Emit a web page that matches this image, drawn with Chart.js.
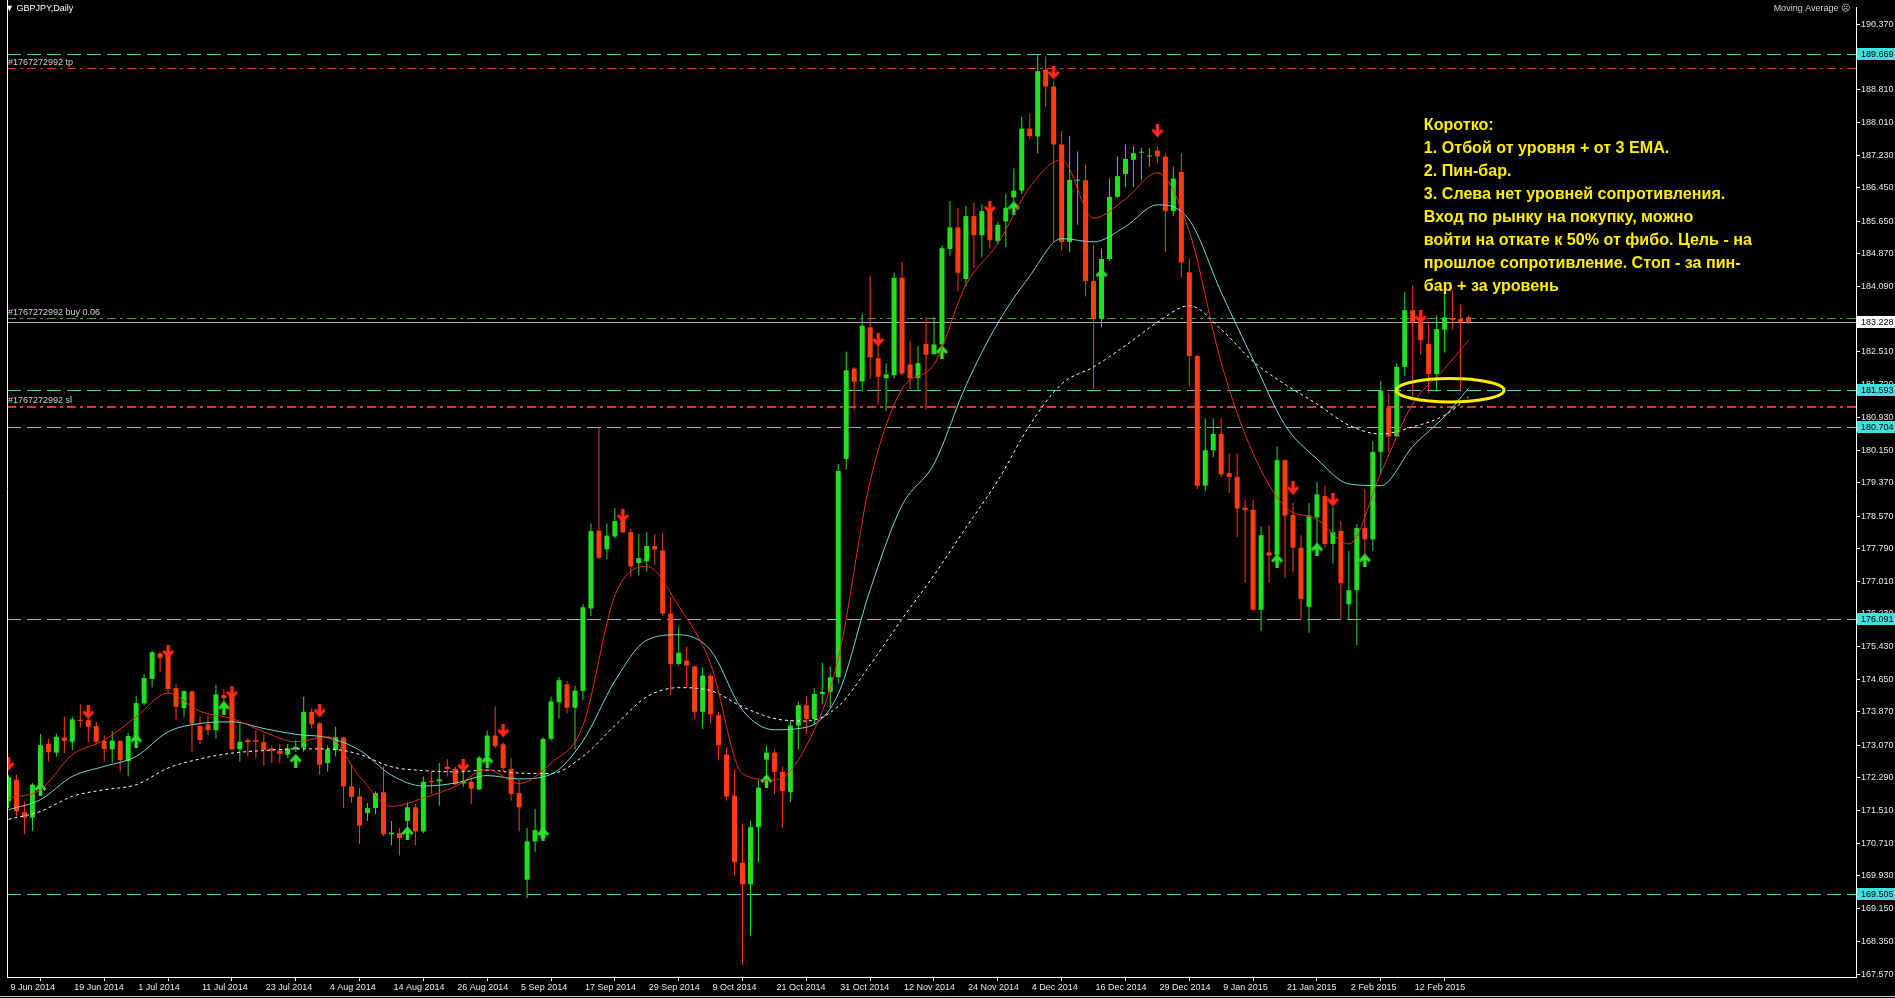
<!DOCTYPE html>
<html>
<head>
<meta charset="utf-8">
<title>GBPJPY,Daily</title>
<script src="https://cdn.jsdelivr.net/npm/chart.js@4.4.1/dist/chart.umd.min.js"></script>
<style>
html,body{margin:0;padding:0;background:#000;overflow:hidden}
#chart{display:block}
</style>
</head>
<body>
<canvas id="chart" width="1895" height="998"></canvas>
<script>
// GBPJPY daily, 9 Jun 2014 .. Feb 2015, bar index 0 = 9 Jun 2014
const tickLabels = ['9 Jun 2014','19 Jun 2014','1 Jul 2014','11 Jul 2014','23 Jul 2014','4 Aug 2014',
  '14 Aug 2014','26 Aug 2014','5 Sep 2014','17 Sep 2014','29 Sep 2014','9 Oct 2014','21 Oct 2014',
  '31 Oct 2014','12 Nov 2014','24 Nov 2014','4 Dec 2014','16 Dec 2014','29 Dec 2014','9 Jan 2015',
  '21 Jan 2015','2 Feb 2015','12 Feb 2015'];
const tickBars = [0,8,16,24,32,40,48,56,64,72,80,88,96,104,112,120,128,136,144,152,160,168,176];

const opens = [
  171.72,172.24,171.46,171.33,172.08,173.10,172.89,173.25,173.15,173.67,
  173.67,173.53,173.17,172.97,173.17,172.69,173.27,174.07,174.66,175.27,
  175.31,174.44,173.96,174.36,173.53,173.57,173.43,174.27,174.30,172.97,
  173.19,173.19,173.14,172.99,172.94,172.84,172.97,173.01,173.87,173.59,
  172.64,172.95,173.25,172.08,171.84,171.44,171.56,171.94,170.93,170.96,
  171.25,171.58,171.00,172.21,172.20,172.55,172.50,172.15,172.19,172.01,
  172.81,173.30,173.09,172.50,171.92,169.84,170.76,170.84,173.22,174.10,
  174.53,173.97,174.37,176.35,178.22,177.77,178.08,178.47,178.18,177.44,
  177.48,177.85,177.74,176.23,175.02,175.10,174.96,173.87,174.74,173.79,
  172.85,171.86,170.25,169.73,171.10,172.72,172.89,172.43,171.94,173.54,
  174.03,173.70,174.30,174.35,174.70,179.94,182.11,181.80,183.10,182.36,
  181.88,181.95,184.29,182.21,181.88,182.70,182.46,182.69,184.98,185.50,
  184.26,185.77,185.31,185.89,185.17,185.64,186.22,186.38,187.87,187.68,
  189.29,188.88,187.49,185.15,186.62,186.63,184.21,183.30,184.74,186.23,
  186.78,187.12,187.29,187.20,187.34,187.20,185.89,186.83,184.42,182.41,
  179.30,180.15,180.54,179.60,179.51,178.77,178.72,176.32,177.70,177.64,
  179.91,178.60,177.81,176.39,178.54,179.05,177.90,178.21,176.45,176.79,
  178.28,178.01,180.11,181.17,180.48,182.15,183.51,183.22,182.70,181.98,
  183.04,183.32,183.30,183.34];
const highs = [
  172.35,172.36,171.72,172.16,173.34,173.23,173.35,173.76,173.75,174.05,
  173.83,173.63,173.31,173.41,173.19,173.36,174.25,174.78,175.34,175.31,
  175.44,174.54,174.38,174.38,173.76,173.79,174.52,174.42,174.46,173.59,
  173.23,173.43,173.33,173.07,173.11,173.10,173.19,174.23,173.95,173.63,
  173.06,173.51,173.27,172.60,172.04,171.68,171.96,172.56,171.25,171.08,
  171.70,171.66,172.32,172.44,172.64,172.73,172.56,172.56,172.27,172.81,
  173.42,174.00,173.14,172.77,172.23,171.08,171.54,173.26,174.24,174.70,
  174.61,174.49,176.46,178.39,180.70,178.39,178.76,178.51,178.26,178.14,
  178.18,178.14,178.16,176.62,175.92,175.43,174.98,174.94,174.78,173.87,
  173.01,172.48,171.17,171.25,172.23,173.05,172.97,172.56,173.67,174.12,
  174.25,174.45,175.05,174.95,179.82,182.52,182.15,183.43,184.33,182.69,
  182.24,184.41,184.66,182.77,182.65,183.35,183.35,185.07,186.13,185.97,
  186.01,186.09,186.05,185.97,185.64,186.30,186.91,188.15,188.23,189.66,
  189.60,189.01,187.82,187.69,187.32,187.00,185.07,184.99,186.67,187.20,
  187.49,187.45,187.41,187.41,187.45,187.28,186.96,187.28,184.75,182.45,
  180.92,180.92,180.92,180.07,180.07,178.96,178.96,178.32,178.36,180.24,
  179.93,178.88,178.11,178.88,179.39,179.30,178.79,178.45,177.73,178.38,
  179.22,180.37,181.81,181.51,182.24,183.94,184.11,183.39,183.22,183.39,
  184.19,183.98,183.64,183.38];
const lows = [
  171.56,171.36,170.93,171.01,171.92,172.68,172.80,172.88,172.95,173.49,
  173.14,173.11,172.68,172.64,172.44,172.32,173.03,174.03,174.46,174.82,
  174.30,173.67,173.75,172.91,173.10,173.31,173.23,174.03,172.95,172.68,
  172.80,172.76,172.58,172.64,172.64,172.76,172.91,172.91,173.47,172.36,
  172.44,172.80,171.56,171.68,170.70,171.25,171.41,170.89,170.67,170.42,
  170.84,170.67,170.96,171.90,171.62,172.32,172.11,172.07,171.66,171.99,
  172.64,173.01,172.44,171.74,171.00,169.40,170.51,170.80,173.18,173.71,
  173.83,172.97,174.16,176.17,177.53,177.53,178.04,178.16,177.11,177.15,
  177.24,177.40,176.17,174.28,174.98,174.45,173.71,173.46,173.59,172.72,
  171.74,169.94,167.80,168.50,170.26,172.15,171.90,171.08,171.70,172.97,
  173.35,173.55,174.05,173.95,174.55,179.69,181.13,181.54,181.87,181.25,
  181.09,181.87,181.95,181.62,181.58,181.13,182.44,182.52,184.82,183.96,
  184.08,184.53,184.78,184.99,185.10,185.03,185.81,186.30,187.61,187.28,
  188.39,185.15,184.95,184.90,185.56,183.84,181.62,183.10,184.70,186.21,
  186.46,186.46,186.63,186.96,187.04,184.90,185.77,184.29,181.68,179.22,
  179.17,179.98,179.51,179.13,178.07,176.96,176.30,175.81,176.96,177.34,
  177.09,177.22,176.11,175.77,177.86,177.81,177.43,176.11,176.09,175.47,
  177.64,177.73,179.56,180.11,180.48,181.94,181.34,182.45,181.51,181.56,
  182.49,183.05,181.60,183.18];
const closes = [
  172.30,171.48,171.33,172.12,173.07,172.90,173.27,173.17,173.69,173.65,
  173.51,173.15,172.98,173.18,172.71,173.29,174.08,174.68,175.30,175.16,
  174.42,173.99,174.37,173.59,173.19,173.43,174.29,174.20,172.97,173.15,
  173.14,173.15,172.95,172.94,172.86,172.99,173.03,173.87,173.57,172.60,
  172.97,173.26,172.08,171.83,171.14,171.56,171.92,170.93,170.97,170.84,
  171.58,171.00,172.19,172.18,172.25,172.50,172.13,172.21,172.03,172.77,
  173.30,173.05,172.52,171.90,171.58,170.76,171.03,173.22,174.12,174.63,
  173.97,174.38,176.38,178.21,177.57,178.10,178.45,178.18,177.36,177.56,
  177.85,177.77,176.23,175.02,175.29,174.98,173.87,174.74,173.81,173.07,
  171.84,170.26,169.73,171.10,172.05,172.89,172.43,171.97,173.54,174.03,
  173.70,174.30,174.35,174.70,179.65,182.07,181.79,183.14,182.38,181.91,
  181.97,184.29,181.99,181.88,182.24,182.44,182.69,185.00,185.50,184.41,
  185.77,185.31,185.89,185.19,185.56,185.97,186.38,187.87,187.69,189.25,
  188.88,187.49,185.15,186.64,186.64,184.21,183.30,184.74,186.23,186.73,
  187.14,187.28,187.30,187.22,187.20,185.89,186.67,184.66,182.41,179.30,
  180.15,180.54,179.57,179.51,178.75,178.71,176.32,178.11,177.62,179.91,
  178.58,177.81,176.58,178.58,179.09,177.90,178.18,176.96,176.79,178.28,
  178.01,180.11,181.58,180.48,182.15,183.51,183.22,182.79,181.98,183.06,
  183.34,183.28,183.22,183.23];

// three moving averages, every 4 bars
const emaBars = [0,4,8,12,16,20,24,28,32,36,40,44,48,52,56,60,64,68,72,76,80,84,88,92,96,
  100,104,108,112,116,120,124,128,132,136,140,144,148,152,156,160,164,168,172,176,180,183];
const emaFast = [171.80,172.00,172.84,173.19,173.75,174.32,173.88,173.71,173.39,173.15,173.27,172.32,171.60,
  171.80,172.08,172.49,172.15,172.64,173.54,176.66,177.36,176.41,175.02,172.39,172.23,
  173.05,175.15,179.40,181.62,182.21,184.12,185.11,186.46,187.12,185.72,186.18,186.81,185.40,
  182.25,180.07,178.79,178.49,177.90,179.60,181.26,182.11,182.79];
const emaMid = [171.52,171.76,172.32,172.56,172.80,173.39,173.59,173.63,173.47,173.33,173.25,172.95,172.35,
  172.09,172.16,172.34,172.26,172.37,173.17,174.61,175.59,175.72,175.35,173.91,173.44,
  173.50,174.30,176.80,178.83,179.82,181.70,183.20,184.33,185.23,185.15,185.52,186.04,185.68,
  183.94,182.32,180.75,179.94,179.34,179.30,180.24,180.96,181.64];
const emaSlow = [171.29,171.48,171.84,172.00,172.12,172.52,172.74,172.88,172.94,172.98,172.98,172.85,172.55,
  172.46,172.43,172.47,172.40,172.39,172.80,173.54,174.23,174.45,174.38,173.99,173.71,
  173.65,174.00,175.00,176.10,177.15,178.29,179.42,180.75,181.74,182.15,182.66,183.22,183.62,
  183.05,182.28,181.73,181.26,180.75,180.54,180.71,180.99,181.43];

// signal arrows
const downArrowBars = [0,10,20,28,39,57,62,77,109,123,131,144,161,166,177];
const downArrowPrices = [172.62,173.86,175.31,174.33,173.90,172.58,173.42,178.57,182.80,185.97,189.21,187.82,179.24,178.96,183.34];
const upArrowBars = [4,16,27,36,50,60,67,95,117,126,137,159,164,170];
const upArrowPrices = [172.02,173.18,173.97,172.70,170.96,172.68,170.94,172.21,182.51,185.97,184.35,177.50,177.77,177.51];

// horizontal levels
const cyanLevels = [189.669, 181.593, 180.704, 176.091, 169.505];
const tpLevel = 189.335;
const buyLevel = 183.33;
const slLevel = 181.19;
const bidLevel = 183.228;
const orderId = '#1767272992';

const yTicks = [190.370,189.590,188.810,188.010,187.230,186.450,185.650,184.870,184.090,183.290,182.510,
  181.720,180.930,180.150,179.370,178.570,177.790,177.010,176.230,175.430,174.650,173.870,173.070,
  172.290,171.510,170.710,169.930,169.150,168.350,167.570];

const noteLines = ['Коротко:','1. Отбой от уровня + от 3 EMA.','2. Пин-бар.','3. Слева нет уровней сопротивления.',
  'Вход по рынку на покупку, можно','войти на откате к 50% от фибо. Цель - на','прошлое сопротивление. Стоп - за пин-',
  'бар + за уровень'];
const noteAnchor = {bar: 177.4, price: 187.95};
const ellipseMark = {bar: 180.7, price: 181.59, halfBars: 6.75, halfPrice: 0.28};

const BULL = '#20e020', BEAR = '#ff3c12';
const CYAN = '#4ccccc', RED = '#d23a32', FONT = '"Liberation Sans", Arial, sans-serif';

function makeArrow(color, up) {
  const c = document.createElement('canvas');
  c.width = 13; c.height = 14;
  const g = c.getContext('2d');
  g.strokeStyle = color;
  if (up) { g.translate(0, 14); g.scale(1, -1); }
  g.lineWidth = 3.5;
  g.beginPath(); g.moveTo(6.5, 0); g.lineTo(6.5, 12); g.stroke();
  g.lineWidth = 3;
  g.beginPath(); g.moveTo(1.5, 6); g.lineTo(6.5, 11.5); g.lineTo(11.5, 6); g.stroke();
  return c;
}

const barIdx = opens.map((_, i) => i);
const candleColor = barIdx.map(i => closes[i] >= opens[i] ? BULL : BEAR);

const levelsPlugin = {
  id: 'levels',
  beforeDatasetsDraw(chart) {
    const {ctx, chartArea: a, scales: {y}} = chart;
    ctx.save();
    ctx.beginPath(); ctx.rect(a.left, a.top, a.right - a.left, a.bottom - a.top); ctx.clip();
    const hline = (v, color, dash, w) => {
      const py = Math.round(y.getPixelForValue(v)) + (w % 2 ? 0.5 : 0);
      ctx.strokeStyle = color; ctx.lineWidth = w; ctx.setLineDash(dash);
      ctx.beginPath(); ctx.moveTo(a.left, py); ctx.lineTo(a.right, py); ctx.stroke();
    };
    cyanLevels.forEach(v => hline(v, CYAN, [14, 6], 1));
    hline(tpLevel, RED, [9, 4, 3, 4], 1);
    hline(slLevel, RED, [9, 4, 3, 4], 2);
    hline(buyLevel, '#3d9a3d', [9, 4, 3, 4], 1);
    hline(bidLevel, '#b4b4b4', [], 1);
    ctx.setLineDash([]);
    ctx.font = '9px ' + FONT; ctx.fillStyle = '#d0d0d0'; ctx.textBaseline = 'alphabetic';
    ctx.fillText(orderId + ' tp', 8, y.getPixelForValue(tpLevel) - 3);
    ctx.fillText(orderId + ' buy 0.06', 8, y.getPixelForValue(buyLevel) - 3);
    ctx.fillText(orderId + ' sl', 8, y.getPixelForValue(slLevel) - 4);
    ctx.restore();
  },
  afterDatasetsDraw(chart) {
    const {ctx, scales: {x, y}} = chart;
    ctx.save();
    // yellow ellipse
    const cx = x.getPixelForValue(ellipseMark.bar), cy = y.getPixelForValue(ellipseMark.price);
    const rx = x.getPixelForValue(ellipseMark.bar + ellipseMark.halfBars) - cx;
    const ry = cy - y.getPixelForValue(ellipseMark.price + ellipseMark.halfPrice);
    ctx.strokeStyle = '#ffee00'; ctx.lineWidth = 3;
    ctx.beginPath(); ctx.ellipse(cx, cy, rx, ry, 0, 0, Math.PI * 2); ctx.stroke();
    // note text
    let size = 14;
    ctx.font = 'bold ' + size + 'px ' + FONT;
    size = size * 328 / ctx.measureText(noteLines[5]).width;
    ctx.font = 'bold ' + size.toFixed(1) + 'px ' + FONT;
    ctx.fillStyle = '#ffee00'; ctx.textBaseline = 'middle';
    const nx = x.getPixelForValue(noteAnchor.bar), ny = y.getPixelForValue(noteAnchor.price);
    noteLines.forEach((t, k) => ctx.fillText(t, nx, ny + k * 23));
    ctx.restore();
  },
  afterDraw(chart) {
    const {ctx, chartArea: a, scales: {y}} = chart;
    ctx.save();
    ctx.strokeStyle = '#ffffff'; ctx.lineWidth = 1;
    ctx.beginPath(); ctx.moveTo(a.left + 0.5, 0); ctx.lineTo(a.left + 0.5, a.bottom); ctx.stroke();
    ctx.font = '9px ' + FONT; ctx.textBaseline = 'middle';
    const box = (v, bg) => {
      const py = Math.round(y.getPixelForValue(v));
      ctx.fillStyle = bg;
      ctx.fillRect(a.right + 1, py - 6, chart.width - a.right - 1, 12);
      ctx.fillStyle = '#000';
      ctx.fillText(v.toFixed(3), a.right + 5, py + 0.5);
    };
    cyanLevels.forEach(v => box(v, '#40e0e0'));
    box(bidLevel, '#ffffff');
    ctx.fillStyle = '#ffffff';
    ctx.fillText('\u25BC GBPJPY,Daily', 5, 9);
    ctx.textAlign = 'right';
    ctx.fillStyle = '#d8d8d8';
    ctx.fillText('Moving Average \u2639', a.right - 6, 9);
    ctx.textAlign = 'left';
    ctx.strokeStyle = '#c8c8c8';
    ctx.beginPath(); ctx.moveTo(0, 996.5); ctx.lineTo(chart.width, 996.5); ctx.stroke();
    ctx.restore();
  }
};

Chart.defaults.font.family = FONT;
const ctx = document.getElementById('chart').getContext('2d');
new Chart(ctx, {
  type: 'bar',
  data: {
    datasets: [
      {type: 'line', label: 'EMA fast', data: emaBars.map((b, k) => ({x: b, y: emaFast[k]})),
        borderColor: '#e52b20', borderWidth: 1, pointRadius: 0, cubicInterpolationMode: 'monotone', order: 0},
      {type: 'line', label: 'EMA mid', data: emaBars.map((b, k) => ({x: b, y: emaMid[k]})),
        borderColor: '#72d8d8', borderWidth: 1, pointRadius: 0, cubicInterpolationMode: 'monotone', order: 0},
      {type: 'line', label: 'EMA slow', data: emaBars.map((b, k) => ({x: b, y: emaSlow[k]})),
        borderColor: '#ffffff', borderWidth: 1, borderDash: [3, 3], pointRadius: 0, cubicInterpolationMode: 'monotone', order: 0},
      {type: 'scatter', label: 'sell', data: downArrowBars.map((b, k) => ({x: b, y: downArrowPrices[k]})),
        pointStyle: makeArrow('#ff2a1a', false), pointRadius: 6, order: 1},
      {type: 'scatter', label: 'buy', data: upArrowBars.map((b, k) => ({x: b, y: upArrowPrices[k]})),
        pointStyle: makeArrow('#30e030', true), pointRadius: 6, order: 1},
      {label: 'wick', data: barIdx.map(i => ({x: i, y: [lows[i], highs[i]]})),
        backgroundColor: candleColor, barThickness: 1, grouped: false, inflateAmount: 0, borderWidth: 0, order: 3},
      {label: 'body', data: barIdx.map(i => ({x: i, y: [opens[i], closes[i]]})),
        backgroundColor: candleColor, barThickness: 5, minBarLength: 1, grouped: false, inflateAmount: 0, borderWidth: 0, order: 2}
    ]
  },
  options: {
    responsive: false,
    animation: false,
    devicePixelRatio: 1,
    layout: {padding: {left: 2, top: 0, right: 0, bottom: 0}},
    plugins: {legend: {display: false}, tooltip: {enabled: false}},
    scales: {
      x: {
        type: 'linear', min: -0.1875, max: 231.5625, offset: false,
        grid: {drawOnChartArea: false, drawTicks: true, tickLength: 4, color: '#ffffff'},
        border: {display: true, color: '#ffffff'},
        ticks: {autoSkip: false, maxRotation: 0, align: 'start', labelOffset: 2, padding: 1,
          color: '#e8e8e8', font: {size: 9}, callback: (v, i) => tickLabels[i]},
        afterBuildTicks: s => { s.ticks = tickBars.map(v => ({value: v})); },
        afterFit: s => { s.height = 21; s.paddingLeft = 0; s.paddingRight = 0; }
      },
      y: {
        type: 'linear', position: 'right', min: 167.505, max: 190.789,
        grid: {drawOnChartArea: false, drawTicks: true, tickLength: 4, color: '#ffffff'},
        border: {display: true, color: '#ffffff'},
        ticks: {autoSkip: false, padding: 1, color: '#e8e8e8', font: {size: 9}, callback: v => v.toFixed(3)},
        afterBuildTicks: s => { s.ticks = yTicks.map(v => ({value: v})); },
        afterFit: s => { s.width = 39; s.paddingTop = 0; s.paddingBottom = 0; }
      }
    }
  },
  plugins: [levelsPlugin]
});
</script>
</body>
</html>
